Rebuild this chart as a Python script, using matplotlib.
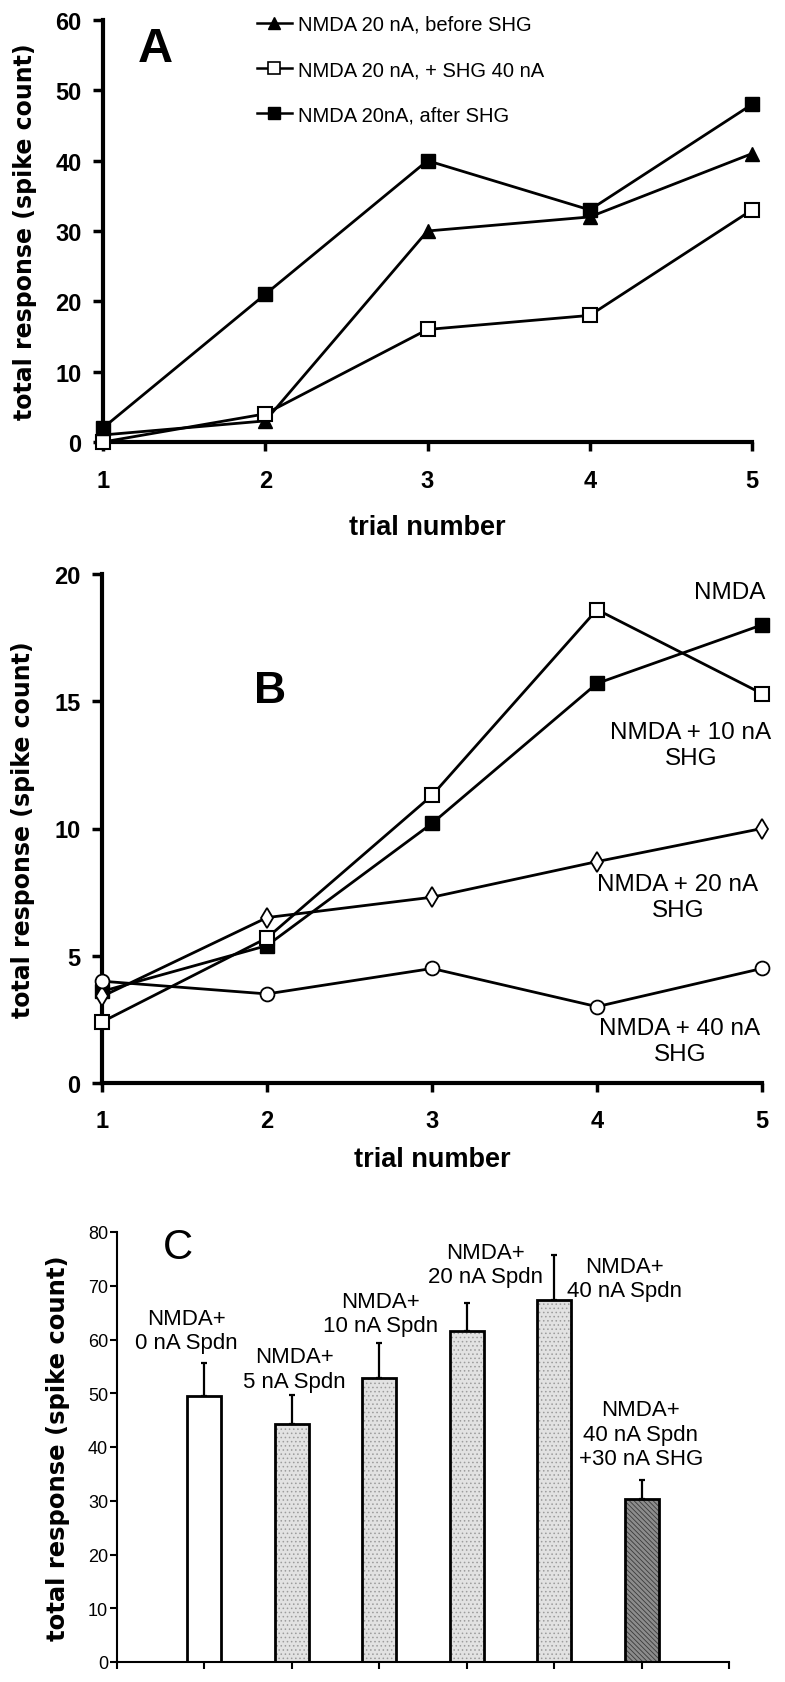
import matplotlib
matplotlib.use("Agg")
import matplotlib.pyplot as plt
from matplotlib.lines import Line2D

plt.rcParams['font.family'] = ['Liberation Sans', 'DejaVu Sans']
plt.rcParams['hatch.linewidth'] = 0.6

# ---- data ----
trial = [1, 2, 3, 4, 5]
# panel A
a_before = [1, 3, 30, 32, 41]
a_shg40 = [0, 4, 16, 18, 33]
a_after = [2, 21, 40, 33, 48]
a_names = ["NMDA 20 nA, before SHG", "NMDA 20 nA, + SHG 40 nA", "NMDA 20nA, after SHG"]
# panel B
b_nmda = [3.6, 5.4, 10.2, 15.7, 18.0]
b_shg10 = [2.4, 5.7, 11.3, 18.6, 15.3]
b_shg20 = [3.4, 6.5, 7.3, 8.7, 10.0]
b_shg40 = [4.0, 3.5, 4.5, 3.0, 4.5]
b_names = ["NMDA", "NMDA + 10 nA\nSHG", "NMDA + 20 nA\nSHG", "NMDA + 40 nA\nSHG"]
# panel C
c_labels = ["NMDA+\n0 nA Spdn", "NMDA+\n5 nA Spdn", "NMDA+\n10 nA Spdn",
            "NMDA+\n20 nA Spdn", "NMDA+\n40 nA Spdn", "NMDA+\n40 nA Spdn\n+30 nA SHG"]
c_means = [49.4, 44.3, 52.8, 61.5, 67.3, 30.3]
c_sem = [6.2, 5.3, 6.5, 5.2, 8.4, 3.6]

# label placement (layout only)
c_lab_x = [0.79, 2.03, 3.01, 4.21, 5.81, 5.99]
c_lab_y = [61.6, 54.5, 64.9, 74.0, 71.3, 42.4]
b_lab_px = [(730, 593), (691, 746), (678, 898), (680, 1042)]

W, H = 785, 1683
fig = plt.figure(figsize=(W / 100, H / 100), dpi=100)


def box(l, t, r, b):
    return [l / W, 1 - b / H, (r - l) / W, (b - t) / H]


def px(x, y):
    return x / W, 1 - y / H


YLAB = "total response (spike count)"


def style_line_axes(ax, ymax, ystep, xpad):
    for s in ("top", "right"):
        ax.spines[s].set_visible(False)
    for s in ("left", "bottom"):
        ax.spines[s].set_linewidth(3)
    ax.set_xlim(1, 5)
    ax.set_ylim(0, ymax)
    ax.set_xticks(trial)
    ax.set_yticks(range(0, ymax + 1, ystep))
    ax.tick_params(axis="y", direction="out", length=7, width=2.5, labelsize=17, pad=8.5)
    ax.tick_params(axis="x", direction="out", length=6.5, width=2.5, labelsize=17, pad=xpad)
    plt.setp(ax.get_xticklabels() + ax.get_yticklabels(), fontweight="bold")


# ---- panel A ----
axA = fig.add_axes(box(103, 21, 752, 443))
style_line_axes(axA, 60, 10, 13)
kw = dict(color="black", lw=2, ms=10, clip_on=False, zorder=3)
axA.plot(trial, a_before, marker="^", mfc="black", mec="black", **kw)
axA.plot(trial, a_shg40, marker="s", mfc="white", mec="black", mew=1.5, **kw)
axA.plot(trial, a_after, marker="s", mfc="black", mec="black", **kw)
handles = [
    Line2D([], [], color="black", lw=1.8, marker="^", ms=8, mfc="black", mec="black"),
    Line2D([], [], color="black", lw=1.8, marker="s", ms=8, mfc="white", mec="black", mew=1.2),
    Line2D([], [], color="black", lw=1.8, marker="s", ms=8, mfc="black", mec="black"),
]
axA.legend(handles, a_names, loc="upper left", bbox_to_anchor=(0.237, 1.012), frameon=False,
           fontsize=14.5, handlelength=1.75, handletextpad=0.3, labelspacing=1.3,
           borderpad=0, borderaxespad=0)
fig.text(*px(155, 50), "A", fontsize=35, fontweight="bold", ha="center", va="center")
fig.text(*px(427, 528), "trial number", fontsize=19.5, fontweight="bold", ha="center", va="center")
fig.text(*px(25, 232), YLAB, family="DejaVu Sans", fontsize=17, fontweight="bold",
         rotation=90, ha="center", va="center")

# ---- panel B ----
axB = fig.add_axes(box(102, 575, 762, 1084))
style_line_axes(axB, 20, 5, 12)
axB.plot(trial, b_nmda, marker="s", mfc="black", mec="black", **kw)
axB.plot(trial, b_shg10, marker="s", mfc="white", mec="black", mew=1.5, **kw)
axB.plot(trial, b_shg20, marker="d", mfc="white", mec="black", mew=1.3, **kw)
axB.plot(trial, b_shg40, marker="o", mfc="white", mec="black", mew=1.3, **kw)
for name, (x, y) in zip(b_names, b_lab_px):
    fig.text(*px(x, y), name, fontsize=17.5, ha="center", va="center", linespacing=1.2)
fig.text(*px(270, 692), "B", fontsize=32, fontweight="bold", ha="center", va="center")
fig.text(*px(432, 1160), "trial number", fontsize=19.5, fontweight="bold", ha="center", va="center")
fig.text(*px(23, 830), YLAB, family="DejaVu Sans", fontsize=17, fontweight="bold",
         rotation=90, ha="center", va="center")

# ---- panel C ----
axC = fig.add_axes(box(117, 1233, 729, 1663))
for s in ("top", "right"):
    axC.spines[s].set_visible(False)
for s in ("left", "bottom"):
    axC.spines[s].set_linewidth(1.5)
xc = list(range(1, len(c_means) + 1))
faces = ["white", "#e2e2e2", "#e2e2e2", "#e2e2e2", "#e2e2e2", "#8c8c8c"]
hcols = ["white", "#9c9c9c", "#9c9c9c", "#9c9c9c", "#9c9c9c", "#3a3a3a"]
hatches = [None, "....", "....", "....", "....", "\\\\\\\\\\\\\\"]
for x, m, fc, hc, h in zip(xc, c_means, faces, hcols, hatches):
    axC.bar(x, m, width=0.39, color=fc, edgecolor=hc, linewidth=0, hatch=h, zorder=2)
axC.bar(xc, c_means, width=0.39, fill=False, edgecolor="black", linewidth=2, zorder=3)
axC.errorbar(xc, c_means, yerr=[[0] * len(c_sem), c_sem], fmt="none", ecolor="black",
             elinewidth=1.6, capsize=2.5, capthick=1.6, zorder=1)
for lab, x, y in zip(c_labels, c_lab_x, c_lab_y):
    axC.text(x, y, lab, fontsize=16, ha="center", va="center", linespacing=1.2)
axC.set_xlim(0, 7)
axC.set_ylim(0, 80)
axC.set_xticks(range(0, 8))
axC.set_xticklabels([])
axC.set_yticks(range(0, 81, 10))
axC.tick_params(axis="both", direction="out", length=5, width=1.5, labelsize=13, pad=1.5)
fig.text(*px(178, 1248), "C", fontsize=30, ha="center", va="center")
fig.text(*px(58, 1448), YLAB, family="DejaVu Sans", fontsize=17.5, fontweight="bold",
         rotation=90, ha="center", va="center")

fig.savefig("out.png", dpi=100)
